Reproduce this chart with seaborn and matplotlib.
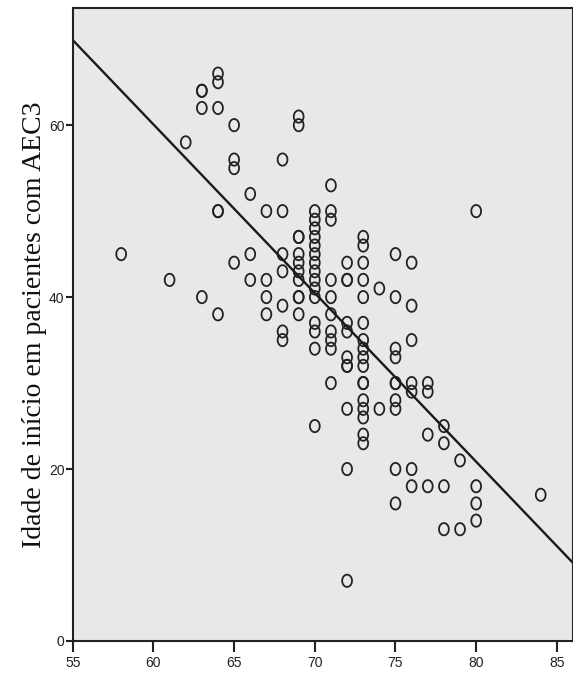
import matplotlib
matplotlib.use("Agg")
import matplotlib.pyplot as plt
from matplotlib.path import Path
import numpy as np
import seaborn as sns

# x values (one entry per patient) grouped by column
x_vals = ([58] + [61] + [62] + [63] * 4 + [64] * 6 + [65] * 4 + [66] * 3 + [67] * 4 +
          [68] * 7 + [69] * 11 + [70] * 15 + [71] * 10 + [72] * 11 + [73] * 17 +
          [74] * 2 + [75] * 10 + [76] * 7 + [77] * 4 + [78] * 4 + [79] * 2 + [80] * 4 + [84])

# idade de inicio, same order as above
idade = [45,
         42,
         58,
         64, 64, 62, 40,
         66, 65, 62, 50, 50, 38,
         60, 56, 55, 44,
         52, 45, 42,
         50, 42, 40, 38,
         56, 50, 45, 43, 39, 36, 35,
         61, 60, 47, 47, 45, 44, 43, 42, 40, 40, 38,
         50, 49, 48, 47, 46, 45, 44, 43, 42, 41, 40, 37, 36, 34, 25,
         53, 50, 49, 42, 40, 38, 36, 35, 34, 30,
         44, 42, 42, 37, 36, 33, 32, 32, 27, 20, 7,
         47, 46, 44, 42, 40, 37, 35, 34, 33, 32, 30, 30, 28, 27, 26, 24, 23,
         41, 27,
         45, 40, 34, 33, 30, 30, 28, 27, 20, 16,
         44, 39, 35, 30, 29, 20, 18,
         30, 29, 24, 18,
         25, 23, 18, 13,
         21, 13,
         50, 18, 16, 14,
         17]

x_ticks = [55, 60, 65, 70, 75, 80, 85]
y_ticks = [0, 20, 40, 60]

sns.set_theme(style="ticks")
plt.rcParams['font.family'] = ['Liberation Sans Narrow', 'Liberation Sans', 'DejaVu Sans']

# slightly tall open ellipse, like the stretched SPSS circles
t = np.linspace(0, 2 * np.pi, 40)
ellipse = Path(np.column_stack([0.8 * np.cos(t), np.sin(t)]), closed=True)

fig = plt.figure(figsize=(5.73, 6.87), dpi=100)
ax = fig.add_axes([0.127, 0.067, 0.873, 0.921])
ax.set_facecolor('#e8e8e8')
ax.set_xlim(55, 86)
ax.set_ylim(0, 73.6)

sns.regplot(x=np.array(x_vals), y=np.array(idade), ax=ax, ci=None, truncate=False,
            marker=ellipse,
            scatter_kws=dict(color='#222222', facecolors='none', edgecolors='#222222',
                             s=78, linewidths=1.3, alpha=1),
            line_kws=dict(color='#1a1a1a', lw=1.7))
ax.set_xlim(55, 86)
ax.set_ylim(0, 73.6)

ax.set_xticks(x_ticks)
ax.set_yticks(y_ticks)
ax.tick_params(axis='x', direction='out', length=8, width=1.5, labelsize=10, pad=3, colors='#222222')
ax.tick_params(axis='y', direction='out', length=5, width=1.5, labelsize=10, pad=1, colors='#222222')
for s in ax.spines.values():
    s.set_linewidth(1.5)
    s.set_color('#222222')

ax.set_xlabel('')
ax.set_ylabel('Idade de início em pacientes com AEC3', family=['Liberation Serif', 'DejaVu Serif'],
              fontsize=20, labelpad=1, color='#111111')

fig.savefig('out.png', dpi=100)
